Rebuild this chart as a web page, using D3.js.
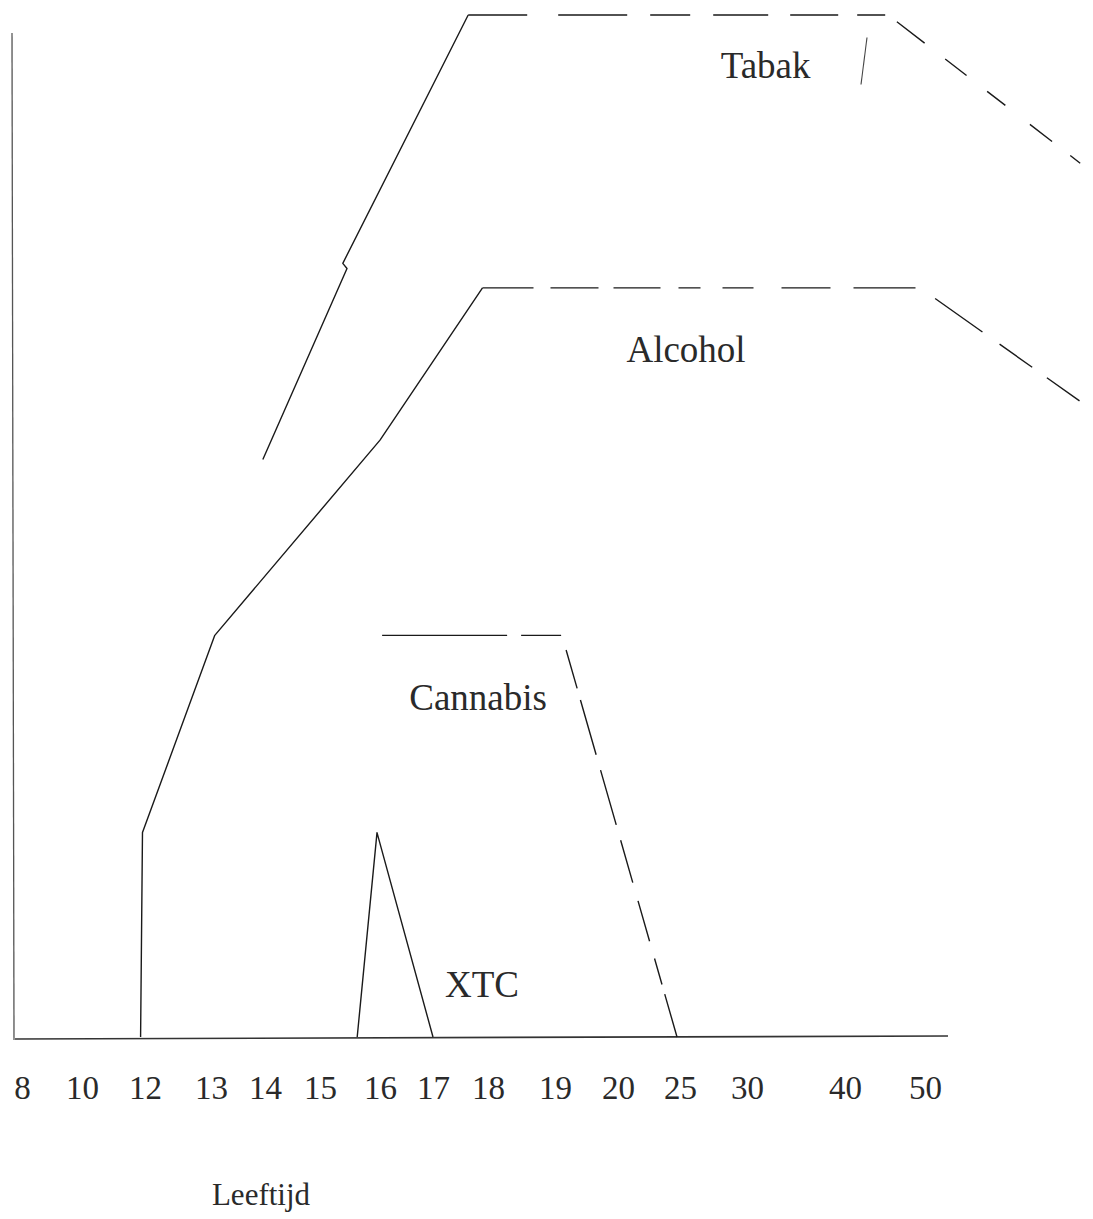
<!DOCTYPE html>
<html>
<head>
<meta charset="utf-8">
<script src="https://cdn.jsdelivr.net/npm/d3@7"></script>
<style>
  body { margin: 0; background: #fff; }
  svg { display: block; }
  text { font-family: "Liberation Serif", "DejaVu Serif", serif; fill: #2a2a2a; }
</style>
</head>
<body>
<svg></svg>
<script>
// leeftijden op de x-as (niet gelijkmatig verdeeld)
const ageTicks = [8, 10, 12, 13, 14, 15, 16, 17, 18, 19, 20, 25, 30, 40, 50]

// lijnen, leeftijd + niveau (0-100)
const tabakAge = [13.96, 15.45, 15.38, 17.64, 45.4, 69.4]
const tabakLevel = [56.5, 75.2, 75.7, 100, 100, 85.5]
const alcoholAge = [11.86, 11.92, 13.07, 16.0, 17.9, 49.4, 69.4]
const alcoholLevel = [0, 20, 39.3, 58.4, 73.3, 73.3, 62.2]
const cannabisAge = [16.04, 19.11, 24.76]
const cannabisLevel = [39.3, 39.3, 0]
const xtcAge = [15.62, 15.95, 17.0]
const xtcLevel = [0, 20, 0]
const strayAge = [42.75, 42.0]
const strayLevel = [97.8, 93.2]

// labels
const labelNames = ["Tabak", "Alcohol", "Cannabis", "XTC"]
const labelAge = [31.9, 25.45, 17.82, 17.89]
const labelLevel = [93.8, 66.0, 32.0, 3.9]

const width = 1093
const height = 1219
const svg = d3.select('svg')
    .attr("width", width)
    .attr("height", height)

const x = d3.scaleLinear()
    .domain(ageTicks)
    .range([22, 82, 145, 211, 265, 320, 380, 433, 488, 555, 618, 680, 747, 845, 925])

const y = d3.scaleLinear()
    .domain([0, 100])
    .range([1037, 15])

const lijn = d3.line()
    .x(d => x(d[0]))
    .y(d => y(d[1]))

function punten(ages, levels) {
    return ages.map((a, i) => [a, levels[i]])
}

// assen
svg.append("line")
    .attr("x1", 12).attr("x2", 14)
    .attr("y1", 33).attr("y2", 1040)
    .attr("stroke", "#555").attr("stroke-width", 1.3)

svg.append("line")
    .attr("x1", 15).attr("x2", 948)
    .attr("y1", 1039).attr("y2", 1036)
    .attr("stroke", "#333").attr("stroke-width", 1.6)

const xAxis = svg.append("g")
    .attr("transform", "translate(0,1038)")
    .call(d3.axisBottom(x).tickValues(ageTicks).tickFormat(d3.format("d")).tickSize(0).tickPadding(38))

xAxis.select(".domain").remove()
xAxis.selectAll("text")
    .attr("font-family", "Liberation Serif, DejaVu Serif, serif")
    .attr("font-size", 33)
    .attr("fill", "#2a2a2a")

const series = [
    { naam: "Tabak", data: punten(tabakAge, tabakLevel), dashFrom: 3,
      dash: "59,31,69,23,40,23,55,22,48,19,28,14,35,26,27,26,23,31,28,23,16,40" },
    { naam: "Alcohol", data: punten(alcoholAge, alcoholLevel), dashFrom: 4,
      dash: "51,17,48,15,47,18,22,22,31,28,49,23,62,23,58,21,40,18,40" },
    { naam: "Cannabis", data: punten(cannabisAge, cannabisLevel), dashFrom: 0,
      dash: "125,14,40,16,40,12,57,16,57,16,44,19,42,18,27,10,60" },
    { naam: "XTC", data: punten(xtcAge, xtcLevel), dashFrom: null, dash: null }
]

series.forEach(s => {
    const eindeSolid = s.dashFrom === null ? s.data.length : s.dashFrom + 1
    if (eindeSolid > 1) {
        svg.append("path")
            .attr("d", lijn(s.data.slice(0, eindeSolid)))
            .attr("fill", "none")
            .attr("stroke", "#1a1a1a")
            .attr("stroke-width", 1.4)
            .attr("stroke-linejoin", "round")
    }
    if (s.dashFrom !== null) {
        svg.append("path")
            .attr("d", lijn(s.data.slice(s.dashFrom)))
            .attr("fill", "none")
            .attr("stroke", "#1a1a1a")
            .attr("stroke-width", 1.4)
            .attr("stroke-dasharray", s.dash)
    }
})

// los streepje naast Tabak
svg.append("path")
    .attr("d", lijn(punten(strayAge, strayLevel)))
    .attr("fill", "none")
    .attr("stroke", "#444")
    .attr("stroke-width", 1.1)

svg.selectAll(".label")
    .data(labelNames)
    .enter()
    .append("text")
    .attr("class", "label")
    .attr("x", (d, i) => x(labelAge[i]))
    .attr("y", (d, i) => y(labelLevel[i]))
    .attr("text-anchor", "middle")
    .attr("font-size", 37)
    .text(d => d)

svg.append("text")
    .attr("x", 261)
    .attr("y", 1205)
    .attr("text-anchor", "middle")
    .attr("font-size", 31)
    .text("Leeftijd")
</script>
</body>
</html>
